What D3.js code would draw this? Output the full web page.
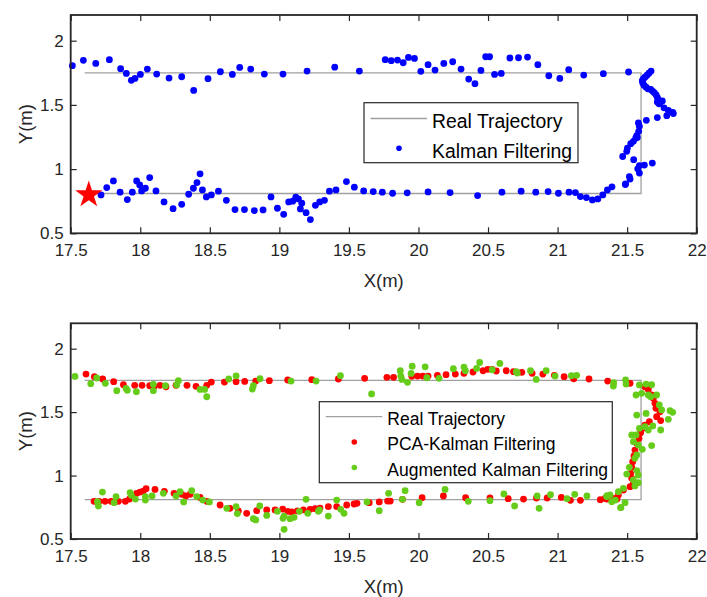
<!DOCTYPE html>
<html>
<head>
<meta charset="utf-8">
<script src="https://cdn.jsdelivr.net/npm/d3@7"></script>
<style>
  body { margin: 0; background: #fff; }
  svg { display: block; font-family: "Liberation Sans", Arial, sans-serif; }
</style>
</head>
<body>
<script>
// tick values
var xTicks = [17.5, 18, 18.5, 19, 19.5, 20, 20.5, 21, 21.5, 22];
var yTicks = [0.5, 1, 1.5, 2];

// real trajectory (open rectangle)
var realX = [17.6, 21.6, 21.6, 17.6];
var realY = [1.75, 1.75, 0.81, 0.81];

// start point
var startPt = [17.63, 0.8];

// Kalman filtering estimates (top panel)
var kalman = [
  [17.512,1.805],[17.591,1.847],[17.680,1.823],[17.778,1.852],[17.859,1.782],[17.900,1.745],
  [17.936,1.691],[17.962,1.706],[18.001,1.737],[18.051,1.779],[18.118,1.740],[18.207,1.709],
  [18.298,1.719],[18.384,1.613],[18.487,1.704],[18.576,1.758],[18.662,1.737],[18.715,1.792],
  [18.794,1.779],[18.892,1.740],[19.026,1.740],[19.199,1.763],[19.398,1.794],[19.575,1.763],
  [19.761,1.852],[19.804,1.844],[19.849,1.849],[19.890,1.828],[19.928,1.870],[19.971,1.862],
  [20.017,1.761],[20.069,1.813],[20.119,1.771],[20.182,1.823],[20.246,1.836],[20.306,1.779],
  [20.361,1.701],[20.406,1.665],[20.449,1.768],[20.483,1.875],[20.511,1.875],[20.547,1.737],
  [20.595,1.745],[20.657,1.865],[20.719,1.867],[20.784,1.872],[20.858,1.813],[20.937,1.727],
  [21.016,1.706],[21.080,1.774],[21.188,1.732],[21.329,1.743],[21.510,1.756],
  [21.672,1.763],[21.657,1.747],[21.643,1.731],[21.628,1.716],[21.616,1.703],[21.609,1.688],
  [21.612,1.672],[21.621,1.653],[21.636,1.638],[21.650,1.625],[21.670,1.620],[21.684,1.606],
  [21.696,1.594],[21.708,1.578],[21.717,1.559],[21.724,1.541],[21.717,1.523],[21.737,1.520],
  [21.753,1.531],[21.729,1.508],[21.765,1.477],[21.796,1.458],[21.785,1.416],[21.828,1.442],
  [21.832,1.432],[21.717,1.401],[21.638,1.380],
  [21.581,1.359],[21.588,1.333],[21.583,1.294],[21.569,1.260],[21.562,1.242],[21.573,1.247],
  [21.545,1.216],[21.526,1.198],[21.502,1.164],[21.497,1.138],[21.468,1.098],[21.547,1.073],
  [21.588,1.026],[21.576,1.002],[21.588,0.969],[21.624,1.031],[21.681,1.047],[21.516,0.942],
  [21.521,0.922],[21.487,0.880],[21.391,0.862],[21.358,0.838],[21.325,0.799],
  [17.718,0.799],[17.759,0.856],[17.807,0.908],[17.855,0.820],[17.907,0.763],[17.943,0.820],
  [17.974,0.908],[17.996,0.877],[18.010,0.830],[18.037,0.851],[18.068,0.934],[18.113,0.830],
  [18.171,0.744],[18.236,0.692],[18.298,0.726],[18.348,0.804],[18.382,0.851],[18.408,0.895],
  [18.430,0.963],[18.447,0.838],[18.475,0.783],[18.511,0.799],[18.562,0.828],[18.619,0.757],
  [18.681,0.685],[18.749,0.685],[18.820,0.677],[18.883,0.682],[18.940,0.783],[18.986,0.695],
  [19.031,0.648],[19.067,0.744],[19.096,0.750],[19.118,0.781],[19.137,0.768],[19.161,0.734],
  [19.151,0.690],[19.192,0.661],[19.223,0.607],[19.259,0.718],[19.290,0.744],[19.324,0.757],
  [19.360,0.828],[19.407,0.838],[19.482,0.903],[19.539,0.859],
  [19.606,0.830],[19.675,0.825],[19.740,0.820],[19.814,0.812],[19.919,0.815],[20.069,0.822],
  [20.227,0.817],[20.425,0.794],[20.600,0.820],[20.738,0.828],[20.843,0.820],[20.932,0.825],
  [21.006,0.812],[21.082,0.820],[21.128,0.817],[21.164,0.786],[21.207,0.778],[21.250,0.760],
  [21.289,0.768],[21.489,0.885]
];

// PCA-Kalman filtering estimates (bottom panel)
var pcaKalman = [
  [17.610,1.800],[17.670,1.779],[17.730,1.761],[17.809,1.740],[17.879,1.716],[17.960,1.711],
  [18.013,1.711],[18.068,1.708],[18.099,1.700],[18.142,1.711],[18.185,1.700],[18.257,1.711],
  [18.336,1.711],[18.401,1.703],[18.478,1.711],[18.511,1.737],[18.605,1.737],[18.689,1.740],
  [18.751,1.742],[18.830,1.745],[18.928,1.748],[19.060,1.753],[19.233,1.756],[19.424,1.761],
  [19.613,1.766],[19.773,1.774],[19.821,1.774],[19.952,1.782],[19.993,1.784],[20.031,1.784],
  [20.069,1.784],[20.136,1.790],[20.198,1.795],[20.265,1.800],[20.327,1.806],[20.392,1.816],
  [20.464,1.826],[20.499,1.837],[20.530,1.837],[20.559,1.824],[20.631,1.826],[20.683,1.819],
  [20.743,1.814],[20.817,1.806],[20.894,1.800],[20.977,1.790],[21.047,1.779],[21.116,1.763],
  [21.226,1.761],[21.360,1.745],
  [21.521,1.727],[21.628,1.700],[21.652,1.679],[21.676,1.635],[21.688,1.609],[21.700,1.569],
  [21.707,1.530],[21.736,1.503],[21.741,1.433],[21.712,1.464],[21.660,1.425],[21.628,1.398],
  [21.612,1.372],[21.597,1.338],[21.585,1.293],[21.569,1.254],[21.556,1.201],[21.549,1.154],
  [21.540,1.109],[21.533,1.065],[21.525,1.017],[21.533,0.978],[21.545,0.939],[21.521,0.912],
  [21.473,0.886],[21.437,0.847],[21.401,0.820],[21.341,0.820],
  [17.668,0.797],[17.704,0.797],[17.747,0.797],[17.790,0.797],[17.843,0.797],[17.893,0.797],
  [17.922,0.815],[17.951,0.834],[17.974,0.860],[17.998,0.870],[18.022,0.878],[18.042,0.897],
  [18.106,0.891],[18.173,0.876],[18.243,0.860],[18.298,0.852],[18.327,0.839],[18.358,0.852],
  [18.430,0.828],[18.478,0.797],[18.574,0.768],[18.645,0.742],[18.705,0.721],[18.765,0.702],
  [18.837,0.723],[18.909,0.729],[18.969,0.729],[19.024,0.736],[19.060,0.718],[19.089,0.713],
  [19.130,0.721],[19.173,0.729],[19.221,0.734],[19.257,0.739],[19.292,0.744],[19.352,0.755],
  [19.412,0.755],[19.484,0.768],[19.537,0.776],
  [19.558,0.781],[19.646,0.786],[19.718,0.792],[19.778,0.799],[19.797,0.799],[19.885,0.813],
  [20.026,0.826],[20.179,0.839],[20.339,0.826],[20.514,0.823],[20.645,0.818],[20.755,0.815],
  [20.848,0.823],[20.925,0.823],[21.027,0.828],[21.092,0.805],[21.164,0.805],[21.307,0.810],
  [21.355,0.815],[21.391,0.807],[21.427,0.815]
];

// Augmented Kalman filtering estimates (bottom panel)
var augKalman = [
  [17.531,1.781],[17.644,1.724],[17.687,1.769],[17.749,1.727],[17.831,1.669],[17.898,1.687],
  [17.907,1.672],[17.972,1.661],[18.094,1.719],[18.094,1.669],[18.181,1.708],[18.262,1.714],
  [18.274,1.748],[18.430,1.679],[18.463,1.679],[18.478,1.621],[18.636,1.761],[18.689,1.785],
  [18.806,1.682],[18.813,1.708],[18.861,1.763],[19.084,1.745],[19.264,1.745],[19.439,1.787],
  [19.663,1.643],[19.869,1.826],[19.873,1.784],[19.881,1.758],[19.921,1.735],[19.955,1.862],
  [19.947,1.805],[20.048,1.857],[20.060,1.771],[20.148,1.766],[20.251,1.842],[20.327,1.855],
  [20.337,1.826],[20.418,1.844],[20.440,1.891],[20.530,1.834],[20.585,1.884],[20.703,1.818],
  [20.710,1.808],[20.805,1.826],[20.846,1.758],[20.918,1.826],[20.982,1.784],[21.099,1.787],
  [21.137,1.790],[21.403,1.732],[21.489,1.753],
  [21.401,1.706],[21.492,1.721],[21.588,1.714],[21.636,1.721],[21.676,1.716],[21.652,1.635],
  [21.669,1.622],[21.712,1.635],[21.564,1.635],[21.604,1.648],[21.731,1.556],[21.748,1.517],
  [21.808,1.511],[21.827,1.498],[21.796,1.443],[21.636,1.490],[21.569,1.477],[21.684,1.391],
  [21.741,1.359],[21.628,1.385],[21.652,1.359],[21.588,1.372],[21.564,1.320],[21.533,1.320],
  [21.545,1.267],[21.580,1.241],[21.609,1.207],[21.676,1.236],[21.569,1.162],[21.556,1.136],
  [21.516,1.065],[21.569,1.039],[21.580,1.004],[21.497,1.012],[21.545,0.965],[21.580,0.944],
  [21.556,0.918],[21.473,0.899],[21.437,0.873],[21.377,0.847],[21.353,0.834],[21.389,0.794],
  [21.453,0.747],[21.485,0.786],
  [17.692,0.794],[17.699,0.760],[17.728,0.870],[17.826,0.834],[17.812,0.786],[17.927,0.865],
  [17.936,0.844],[17.965,0.815],[18.037,0.834],[18.037,0.807],[18.085,0.839],[18.166,0.860],
  [18.257,0.839],[18.286,0.873],[18.312,0.792],[18.370,0.881],[18.406,0.834],[18.449,0.807],
  [18.497,0.792],[18.622,0.742],[18.689,0.755],[18.698,0.700],[18.813,0.660],[18.830,0.650],
  [18.859,0.760],[18.909,0.686],[18.986,0.718],[19.026,0.663],[19.034,0.681],[19.034,0.576],
  [19.077,0.660],[19.106,0.671],[19.144,0.718],[19.192,0.813],[19.204,0.702],[19.280,0.718],
  [19.288,0.729],[19.352,0.681],[19.412,0.807],[19.441,0.734],[19.465,0.702],
  [19.630,0.792],[19.718,0.723],[19.785,0.860],[19.885,0.813],[19.904,0.881],[20.005,0.786],
  [20.191,0.891],[20.358,0.797],[20.514,0.802],[20.614,0.855],[20.691,0.760],[20.853,0.839],
  [20.867,0.742],[20.949,0.849],[21.068,0.818],[21.123,0.852],[21.211,0.839],[21.355,0.841],
  [21.415,0.807],[21.455,0.747]
];

//custom look
var axisColor = "#262626";
var realColor = "#a0a0a0";
var blue = "#0000ff";
var red = "#ff0000";
var green = "#66cc1a";
var dotR = 3.4;

var width = 707;
var height = 597;

var svg = d3.select("body").append("svg")
    .attr("width", width)
    .attr("height", height);

var x = d3.scaleLinear().domain([17.5, 22]).range([70.7, 696.7]);

function drawPanel(top, bottom, series, legendBox, legendFont, legendRows) {
    var y = d3.scaleLinear().domain([0.5, 2.2]).range([bottom, top]);
    var g = svg.append("g");

    // real trajectory
    var line = d3.line()
        .x(function (d) { return x(d[0]); })
        .y(function (d) { return y(d[1]); });
    var realPts = realX.map(function (v, i) { return [v, realY[i]]; });
    g.append("path")
        .attr("d", line(realPts))
        .attr("fill", "none")
        .attr("stroke", realColor)
        .attr("stroke-width", 1.3);

    // point series
    series.forEach(function (s) {
        g.append("g").selectAll("circle")
            .data(s.data)
            .enter().append("circle")
            .attr("cx", function (d) { return x(d[0]); })
            .attr("cy", function (d) { return y(d[1]); })
            .attr("r", dotR)
            .attr("fill", s.color);
    });

    // axes: inward ticks on all four sides
    var tk = 6;
    g.append("g").attr("transform", "translate(0," + bottom + ")")
        .call(d3.axisBottom(x).tickValues(xTicks).tickSize(-tk).tickPadding(11)
            .tickFormat(function (d) { return String(d); }));
    g.append("g").attr("transform", "translate(0," + top + ")")
        .call(d3.axisTop(x).tickValues(xTicks).tickSize(-tk).tickFormat(""));
    g.append("g").attr("transform", "translate(" + x.range()[0] + ",0)")
        .call(d3.axisLeft(y).tickValues(yTicks).tickSize(-tk).tickPadding(7)
            .tickFormat(function (d) { return String(d); }));
    g.append("g").attr("transform", "translate(" + x.range()[1] + ",0)")
        .call(d3.axisRight(y).tickValues(yTicks).tickSize(-tk).tickFormat(""));

    g.selectAll(".domain").remove();
    g.selectAll(".tick line").attr("stroke", axisColor).attr("stroke-width", 1.2);
    g.selectAll(".tick text")
        .attr("fill", axisColor)
        .style("font-size", "17px")
        .style("font-family", "'Liberation Sans', Arial, sans-serif");

    g.append("rect")
        .attr("x", x.range()[0])
        .attr("y", top)
        .attr("width", x.range()[1] - x.range()[0])
        .attr("height", bottom - top)
        .attr("fill", "none")
        .attr("stroke", axisColor)
        .attr("stroke-width", 1.8);

    // axis labels
    g.append("text")
        .attr("x", (x.range()[0] + x.range()[1]) / 2)
        .attr("y", bottom + 54)
        .attr("text-anchor", "middle")
        .attr("fill", axisColor)
        .style("font-size", "18.5px")
        .text("X(m)");
    g.append("text")
        .attr("transform", "translate(32," + ((top + bottom) / 2) + ") rotate(-90)")
        .attr("text-anchor", "middle")
        .attr("fill", axisColor)
        .style("font-size", "18.5px")
        .text("Y(m)");

    // legend
    var lg = g.append("g");
    lg.append("rect")
        .attr("x", legendBox[0])
        .attr("y", legendBox[1])
        .attr("width", legendBox[2])
        .attr("height", legendBox[3])
        .attr("fill", "#fff")
        .attr("stroke", axisColor)
        .attr("stroke-width", 1.2);
    legendRows.forEach(function (r) {
        var lx = legendBox[0];
        if (r.type === "line") {
            lg.append("line")
                .attr("x1", lx + 6.5).attr("x2", lx + 63)
                .attr("y1", r.y).attr("y2", r.y)
                .attr("stroke", realColor)
                .attr("stroke-width", 1.3);
        } else {
            lg.append("circle")
                .attr("cx", lx + 35).attr("cy", r.y)
                .attr("r", 2.8)
                .attr("fill", r.color);
        }
        lg.append("text")
            .attr("x", lx + 68)
            .attr("y", r.y + legendFont * 0.48)
            .attr("fill", "#000")
            .style("font-size", legendFont + "px")
            .text(r.label);
    });

    return y;
}

var yTop = drawPanel(15, 233.3,
    [{data: kalman, color: blue}],
    [364, 102.7, 214, 60], 19.4,
    [{type: "line", y: 118.5, label: "Real Trajectory"},
     {type: "dot", y: 148.3, color: blue, label: "Kalman Filtering"}]);

// start marker
svg.append("path")
    .attr("d", d3.symbol().type(d3.symbolStar).size(230)())
    .attr("transform", "translate(" + x(startPt[0]) + "," + yTop(startPt[1]) + ")")
    .attr("fill", red);

drawPanel(323.3, 539,
    [{data: pcaKalman, color: red}, {data: augKalman, color: green}],
    [319.3, 401.7, 293, 81], 17.5,
    [{type: "line", y: 416.7, label: "Real Trajectory"},
     {type: "dot", y: 442, color: red, label: "PCA-Kalman Filtering"},
     {type: "dot", y: 467.5, color: green, label: "Augmented Kalman Filtering"}]);
</script>
</body>
</html>
